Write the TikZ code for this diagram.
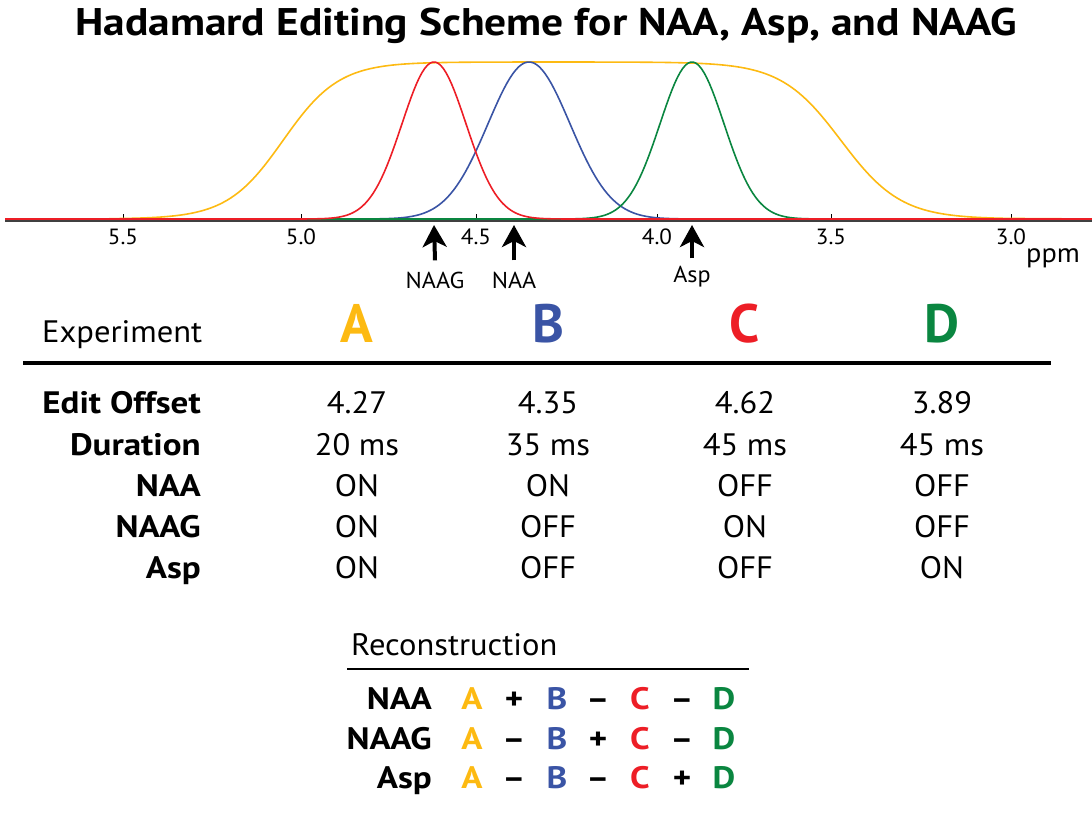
\documentclass[tikz,border=0pt]{standalone}
\usepackage{fontspec}
\setmainfont{PT Sans}[UprightFeatures={FakeStretch=1.05}, BoldFeatures={FakeStretch=1.13}]
\newfontfamily\plainsans{PT Sans}
\usepackage{tikz}
\usetikzlibrary{arrows.meta}

\definecolor{expA}{RGB}{253,186,18}
\definecolor{expB}{RGB}{58,84,165}
\definecolor{expC}{RGB}{237,30,38}
\definecolor{expD}{RGB}{10,134,64}

\newcommand{\fsz}[1]{\fontsize{#1}{#1}\selectfont}

\begin{document}
\begin{tikzpicture}[x=1pt, y=-1pt,
  curve/.style={line width=1.6pt},
  ticklab/.style={font=\fsz{22}, anchor=base, inner sep=0pt},
  lbl/.style={font=\fsz{23}, anchor=base, inner sep=0pt},
  pointer/.style={line width=4pt, -{Stealth[length=22pt, width=24pt, inset=6pt]}},
  rowlab/.style={font=\bfseries\fsz{31}, anchor=base east, inner sep=0pt},
  cell/.style={font=\fsz{31}, anchor=base, inner sep=0pt},
  bigletter/.style={font=\plainsans\bfseries\fsz{54}, anchor=base, inner sep=0pt},
  rlet/.style={font=\bfseries\fsz{31}, anchor=base, inner sep=0pt},
  rop/.style={font=\bfseries\fsz{31}, anchor=base, inner sep=0pt}]
\useasboundingbox (0,0) rectangle (1092,815);

\node[font=\bfseries\fsz{38.5}, anchor=base] (title) at (546,35) {Hadamard Editing Scheme for NAA, Asp, and NAAG};

% ppm axis
\draw[line width=2pt, black!75] (5,221) -- (1092,221);
\foreach \lab/\xx [count=\i] in {5.5/123, 5.0/301, 4.5/476, 4.0/657, 3.5/831, 3.0/1011}
{
  \draw[line width=1pt] (\xx,214) -- (\xx,220);
  \node[ticklab] (tk\i) at (\xx,244) {\lab};
}
\node[font=\fsz{27}, anchor=base, inner sep=0pt] (ppm) at (1053,262) {ppm};

% editing pulses
\draw[curve, expA] (5,219) -- (110,219) -- plot[domain=110:1010, samples=240]
  (\x, {219-157/((1+exp(-(\x-283)/28))*(1+exp((\x-841)/30)))}) -- (1092,219);
\draw[curve, expB] (5,219) -- (324,219) -- plot[domain=324:734, samples=140]
  (\x, {219-157*exp(-0.5*((\x-529)/41)^2)}) -- (1092,219);
\draw[curve, expD] (5,219) -- (532,219) -- plot[domain=532:852, samples=120]
  (\x, {219-157*exp(-0.5*((\x-692)/32)^2)}) -- (1092,219);
\draw[curve, expC] (5,219) -- (274,219) -- plot[domain=274:594, samples=120]
  (\x, {219-157*exp(-0.5*((\x-434)/32)^2)}) -- (1092,219);

% resonances
\node[lbl] (naag) at (435,288) {NAAG};
\node[lbl] (naa) at (514,288) {NAA};
\node[lbl] (asp) at (692,282) {Asp};
\coordinate (naagTip) at (434,225);
\coordinate (naaTip) at (514,225);
\coordinate (aspTip) at (692,225);
\draw[pointer] ([yshift=11pt]naag.north) -- (naagTip);
\draw[pointer] ([yshift=11pt]naa.north) -- (naaTip);
\draw[pointer] ([yshift=7pt]asp.north) -- (aspTip);

% experiment table
\node[font=\fsz{31}, anchor=base west, inner sep=0pt] (expt) at (42,342) {Experiment};
\node[bigletter, expA] (colA) at (357,342) {A};
\node[bigletter, expB] (colB) at (548,342) {B};
\node[bigletter, expC] (colC) at (745,342) {C};
\node[bigletter, expD] (colD) at (942,342) {D};
\draw[line width=4pt] (23,363) -- (1051,363);

\node[rowlab] (offset) at (201,413) {Edit Offset};
\node[rowlab] (dur) at (201,455) {Duration};
\node[rowlab] (rNAA) at (201,496) {NAA};
\node[rowlab] (rNAAG) at (201,537) {NAAG};
\node[rowlab] (rAsp) at (201,578) {Asp};

\foreach \xx/\off/\ms/\a/\b/\c [count=\i] in
  {357/4.27/20/ON/ON/ON, 548/4.35/35/ON/OFF/OFF, 745/4.62/45/OFF/ON/OFF, 942/3.89/45/OFF/OFF/ON}
{
  \node[cell] (off\i) at (\xx,413) {\off};
  \node[cell] (dur\i) at (\xx,455) {\ms{} ms};
  \node[cell] (naa\i) at (\xx,496) {\a};
  \node[cell] (naag\i) at (\xx,537) {\b};
  \node[cell] (asp\i) at (\xx,578) {\c};
}

% reconstruction
\node[font=\fsz{31}, anchor=base west, inner sep=0pt] (recon) at (351,655) {Reconstruction};
\draw[line width=2.5pt] (347,669) -- (749,669);

\foreach \name/\yy/\opa/\opb/\opc [count=\r] in
  {NAA/709/+/–/–, NAAG/749/–/+/–, Asp/788/–/–/+}
{
  \node[rowlab] (sum\r) at (432,\yy) {\name};
  \node[rlet, expA] (sa\r) at (472,\yy) {A};
  \node[rop] (so\r a) at (514,\yy) {\opa};
  \node[rlet, expB] (sb\r) at (557,\yy) {B};
  \node[rop] (so\r b) at (598,\yy) {\opb};
  \node[rlet, expC] (sc\r) at (640,\yy) {C};
  \node[rop] (so\r c) at (682,\yy) {\opc};
  \node[rlet, expD] (sd\r) at (724,\yy) {D};
}
\end{tikzpicture}
\end{document}
